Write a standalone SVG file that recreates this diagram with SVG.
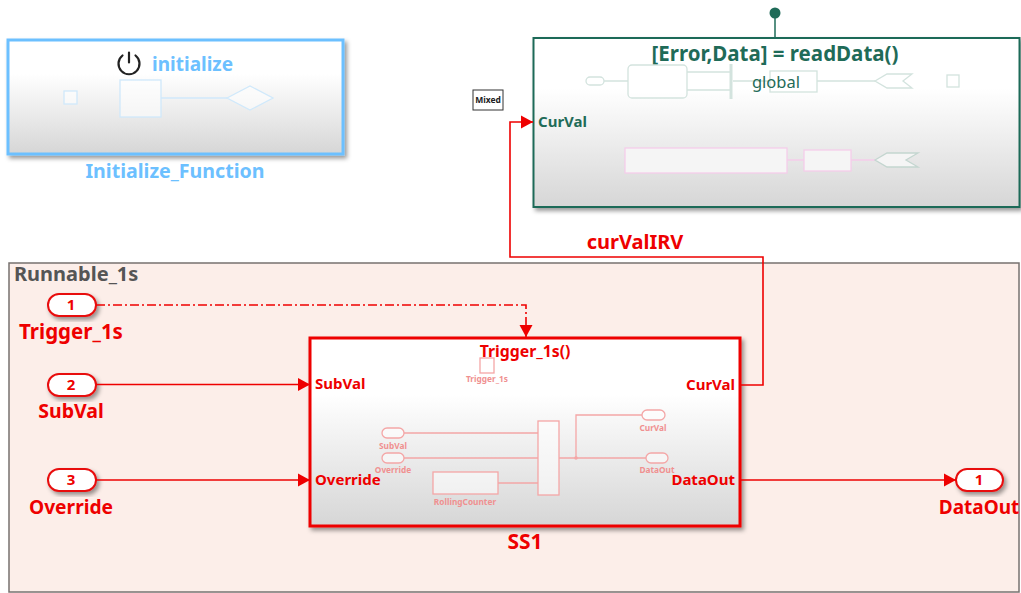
<svg xmlns="http://www.w3.org/2000/svg" width="1021" height="593" viewBox="0 0 1021 593">
<style>
text{font-family:"Noto Sans","DejaVu Sans",sans-serif;font-weight:700}
.m{text-anchor:middle}.e{text-anchor:end}
.red{fill:#ee0000}.blue{fill:#6cc0ff}.grn{fill:#1f6b58}
.wire{fill:none;stroke:#ee0000;stroke-width:1.6}
.port{fill:#fff;stroke:#e81010;stroke-width:2;filter:url(#sh)}
.in{fill:#fff;fill-opacity:.55;stroke:#f4a6a6;stroke-width:1.3}
.inl{fill:none;stroke:#f4a6a6;stroke-width:1.3}
.inT{fill:#f09090;font-size:8.300px}
.bl{fill:#fff;fill-opacity:.55;stroke:#d0e9fb;stroke-width:1.3}
.gn{fill:#fff;fill-opacity:.55;stroke:#d3e3de;stroke-width:1.3}
.pk{fill:#f5f5f5;stroke:#f5cdea;stroke-width:1.3}
</style>
<defs>
<linearGradient id="g" x1="0" y1="0" x2="0" y2="1"><stop offset="0" stop-color="#fff"/><stop offset=".3" stop-color="#fff"/><stop offset="1" stop-color="#d6d6d6"/></linearGradient>
<filter id="sh" x="-10%" y="-20%" width="125%" height="145%"><feDropShadow dx="2.500" dy="3" stdDeviation="2" flood-color="#000" flood-opacity=".4"/></filter>
<marker id="a" markerUnits="userSpaceOnUse" markerWidth="13" markerHeight="14" refX="12" refY="7" orient="auto"><path d="M0 0.500L12 7L0 13.500z" fill="#ee0000"/></marker>
</defs>

<g id="Runnable_1s">
<rect x="9" y="263" width="1010" height="329" fill="#fceee9" stroke="#77726f" stroke-width="1.500"/>
<text x="14" y="281" font-size="20" fill="#555">Runnable_1s</text>
</g>

<g id="Initialize_Function">
<rect x="8" y="40" width="335" height="114" fill="url(#g)" stroke="#6cc0ff" stroke-width="3" filter="url(#sh)"/>
<path d="M129 52.500v10M122.500 55.500a10.500 10.500 0 1 0 13 0" fill="none" stroke="#222" stroke-width="2.200" stroke-linecap="round"/>
<text x="152" y="71" font-size="19" class="blue">initialize</text>
<rect x="64" y="91" width="13" height="13" class="bl"/>
<rect x="120" y="80" width="41" height="37" class="bl"/>
<path d="M161 98H227" fill="none" stroke="#d0e9fb" stroke-width="1.300"/>
<path d="M227 98L250 86L273 98L250 110z" class="bl"/>
<text x="175" y="178" font-size="19.600" class="blue m">Initialize_Function</text>
</g>

<g id="readData">
<rect x="533.500" y="38" width="486" height="169" fill="url(#g)" stroke="#1f6b58" stroke-width="2" filter="url(#sh)"/>
<path d="M775 13V38" fill="none" stroke="#1f6b58" stroke-width="1.500"/>
<circle cx="775" cy="13" r="5.500" fill="#1f6b58"/>
<text x="775" y="61" font-size="20.500" class="grn m">[Error,Data] = readData()</text>
<rect x="586" y="77" width="18" height="8" rx="4" class="gn"/>
<path d="M604 81H628M687 72H730M687 90H730M733 81H770M817 81H875" fill="none" stroke="#d3e3de" stroke-width="1.300"/>
<rect x="628" y="65" width="59" height="33" rx="4" class="gn"/>
<rect x="729.500" y="64" width="3" height="35" fill="#d3e3de"/>
<rect x="770" y="71" width="47" height="21" class="gn"/>
<text x="776" y="88" font-size="16.500" class="grn m" style="font-weight:400">global</text>
<path d="M875 81L887 74H912L903 81L912 88H887z" class="gn"/>
<rect x="947" y="75" width="12" height="12" class="gn"/>
<rect x="625" y="148" width="162" height="25" class="pk"/>
<path d="M787 160H804M851 160H875" fill="none" stroke="#f5cdea" stroke-width="1.300"/>
<rect x="804" y="150" width="47" height="21" class="pk"/>
<path d="M875 160L887 153H918L906 160L918 167H887z" fill="#f5f5f5" stroke="#c4d6d0" stroke-width="1.300"/>
<text x="538" y="127" font-size="15" class="grn">CurVal</text>
</g>

<g id="Mixed">
<rect x="473" y="90" width="30" height="20" fill="#fff" stroke="#333" stroke-width="1"/>
<text x="488" y="103" font-size="8.500" fill="#222" class="m">Mixed</text>
</g>

<g id="SS1">
<rect x="310" y="338" width="430" height="188" fill="url(#g)" stroke="#ee0000" stroke-width="3" filter="url(#sh)"/>
<text x="525" y="357" font-size="15.800" class="red m">Trigger_1s()</text>
<rect x="480" y="358" width="14" height="15" class="in"/>
<text x="487" y="382" class="inT m">Trigger_1s</text>
<path d="M404 433H538M404 458H538M498 483H538M559 458H646M576 458V415H642" class="inl"/>
<rect x="382" y="428" width="22" height="10" rx="5" class="in"/>
<text x="393" y="449" class="inT m">SubVal</text>
<rect x="382" y="453" width="22" height="10" rx="5" class="in"/>
<text x="393" y="472.500" class="inT m">Override</text>
<rect x="433" y="472" width="65" height="22" class="in"/>
<text x="465" y="505" class="inT m">RollingCounter</text>
<rect x="538" y="421" width="21" height="74" class="in"/>
<circle cx="576" cy="458" r="1.800" fill="#f4a6a6"/>
<rect x="642" y="410" width="23" height="10" rx="5" class="in"/>
<text x="653" y="431" class="inT m">CurVal</text>
<rect x="646" y="453" width="22" height="10" rx="5" class="in"/>
<text x="657" y="472.500" class="inT m">DataOut</text>
<text x="315" y="389" font-size="15" class="red">SubVal</text>
<text x="315" y="485" font-size="15" class="red">Override</text>
<text x="735" y="390" font-size="15" class="red e">CurVal</text>
<text x="735" y="485" font-size="15" class="red e">DataOut</text>
<text x="525" y="549" font-size="21" class="red m">SS1</text>
</g>

<g id="In1_Trigger_1s">
<rect x="48" y="294" width="48" height="22" rx="11" class="port"/>
<text x="71" y="310" font-size="15" class="red m">1</text>
<text x="71" y="339" font-size="20.500" class="red m">Trigger_1s</text>
</g>
<g id="In2_SubVal">
<rect x="48" y="374" width="48" height="22" rx="11" class="port"/>
<text x="71" y="390" font-size="15" class="red m">2</text>
<text x="71" y="418" font-size="19.500" class="red m">SubVal</text>
</g>
<g id="In3_Override">
<rect x="48" y="469" width="48" height="22" rx="11" class="port"/>
<text x="71" y="485" font-size="15" class="red m">3</text>
<text x="71" y="514" font-size="19.200" class="red m">Override</text>
</g>
<g id="Out1_DataOut">
<rect x="956" y="469" width="47" height="22" rx="11" class="port"/>
<text x="979" y="485" font-size="15" class="red m">1</text>
<text x="979" y="514" font-size="19" class="red m">DataOut</text>
</g>

<g id="connectors">
<path d="M96 305H526V337" class="wire" stroke-dasharray="9 3 2 3" marker-end="url(#a)"/>
<path d="M96 384.500H310" class="wire" marker-end="url(#a)"/>
<path d="M96 480H310" class="wire" marker-end="url(#a)"/>
<path d="M740 480H956" class="wire" marker-end="url(#a)"/>
<path d="M741 385H763V257H510V122H533" class="wire" marker-end="url(#a)"/>
<text x="635" y="249" font-size="20" class="red m">curValIRV</text>
</g>
</svg>
